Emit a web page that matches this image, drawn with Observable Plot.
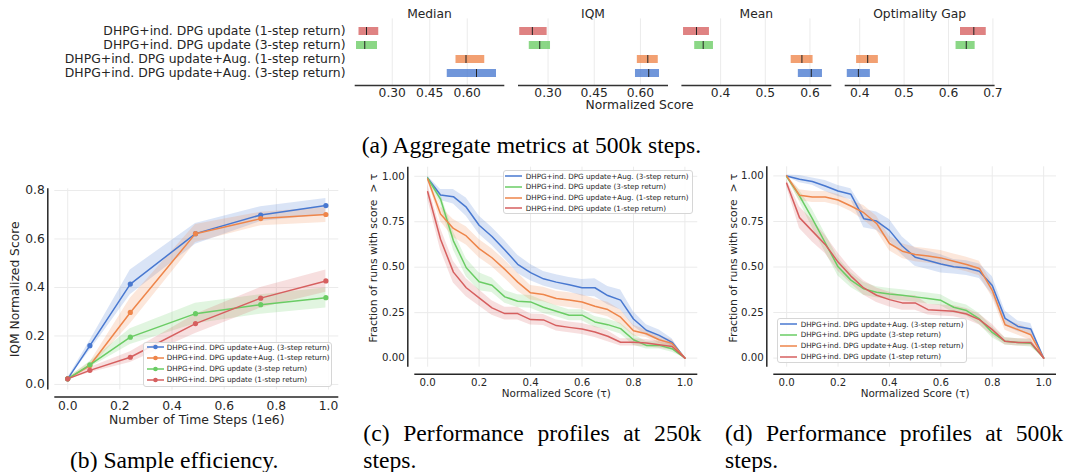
<!DOCTYPE html>
<html>
<head>
<meta charset="utf-8">
<script src="https://cdn.jsdelivr.net/npm/d3@7"></script>
<script src="https://cdn.jsdelivr.net/npm/@observablehq/plot@0.6"></script>
<style>
  body { margin: 0; background: white; }
  #fig { position: relative; width: 1067px; height: 472px; overflow: hidden; background: white; }
  #fig svg { position: absolute; left: 0; top: 0; }
  .cap { position: absolute; font-family: "Liberation Serif", "Times New Roman", serif; font-size: 23.6px; line-height: 27.3px; color: #000; white-space: nowrap; }
  .capj { white-space: normal; text-align: justify; }
  .legend { position: absolute; box-sizing: border-box; border: 1px solid #d6d6d6; border-radius: 3px; background: rgba(255,255,255,0.85); font-family: "DejaVu Sans", sans-serif; font-size: 7.2px; color: #262626; }
  .legend .row { position: absolute; left: 0; height: 10px; display: flex; align-items: center; white-space: nowrap; }
</style>
</head>
<body>
<div id="fig"></div>
<script>
// ---------- shared ----------
const methods = [
  "DHPG+ind. DPG update (1-step return)",
  "DHPG+ind. DPG update (3-step return)",
  "DHPG+ind. DPG update+Aug. (1-step return)",
  "DHPG+ind. DPG update+Aug. (3-step return)"
];
const methodColors = ["#d65f5f", "#6acc64", "#ee854a", "#4878d0"];

// ---------- (a) aggregate metrics ----------
const metricNames = ["Median", "IQM", "Mean", "Optimality Gap"];
const medianPoint = [0.197, 0.190, 0.595, 0.637];
const medianLow   = [0.167, 0.157, 0.555, 0.520];
const medianHigh  = [0.246, 0.241, 0.670, 0.717];
const iqmPoint = [0.249, 0.273, 0.624, 0.627];
const iqmLow   = [0.208, 0.239, 0.590, 0.584];
const iqmHigh  = [0.297, 0.308, 0.658, 0.662];
const meanPoint = [0.346, 0.361, 0.582, 0.603];
const meanLow   = [0.317, 0.342, 0.558, 0.574];
const meanHigh  = [0.375, 0.384, 0.607, 0.628];
const gapPoint = [0.657, 0.640, 0.418, 0.397];
const gapLow   = [0.627, 0.617, 0.393, 0.372];
const gapHigh  = [0.685, 0.660, 0.442, 0.424];
const medianTicks = [0.30, 0.45, 0.60];
const iqmTicks = [0.30, 0.45, 0.60];
const meanTicks = [0.4, 0.5, 0.6];
const gapTicks = [0.4, 0.5, 0.6, 0.7];

// ---------- (b) sample efficiency ----------
const stepsX = [0.0, 0.085, 0.24, 0.49, 0.74, 0.99];
const sampleAug3   = [0.023, 0.160, 0.414, 0.622, 0.699, 0.738];
const sampleAug3Lo = [0.020, 0.140, 0.370, 0.578, 0.672, 0.700];
const sampleAug3Hi = [0.027, 0.180, 0.472, 0.664, 0.733, 0.767];
const sampleAug1   = [0.023, 0.078, 0.297, 0.622, 0.684, 0.701];
const sampleAug1Lo = [0.020, 0.065, 0.250, 0.585, 0.655, 0.668];
const sampleAug1Hi = [0.027, 0.090, 0.355, 0.660, 0.710, 0.730];
const sampleNoAug3   = [0.023, 0.081, 0.195, 0.292, 0.329, 0.358];
const sampleNoAug3Lo = [0.020, 0.070, 0.165, 0.250, 0.290, 0.315];
const sampleNoAug3Hi = [0.027, 0.095, 0.230, 0.335, 0.370, 0.398];
const sampleNoAug1   = [0.023, 0.058, 0.112, 0.251, 0.356, 0.427];
const sampleNoAug1Lo = [0.020, 0.048, 0.090, 0.210, 0.315, 0.380];
const sampleNoAug1Hi = [0.027, 0.070, 0.135, 0.290, 0.400, 0.472];
const sampleXTicks = [0.0, 0.2, 0.4, 0.6, 0.8, 1.0];
const sampleYTicks = [0.0, 0.2, 0.4, 0.6, 0.8];

// ---------- (c) / (d) performance profiles ----------
const tau = [0, 0.05, 0.1, 0.15, 0.2, 0.25, 0.3, 0.35, 0.4, 0.45, 0.5, 0.55, 0.6, 0.65, 0.7, 0.75, 0.8, 0.85, 0.9, 0.95, 1.0];
const c250Aug3   = [0.99, 0.897, 0.888, 0.83, 0.731, 0.669, 0.595, 0.516, 0.47, 0.436, 0.418, 0.403, 0.387, 0.387, 0.344, 0.319, 0.215, 0.153, 0.125, 0.087, 0];
const c250NoAug3 = [0.99, 0.875, 0.645, 0.497, 0.42, 0.401, 0.337, 0.313, 0.309, 0.28, 0.258, 0.236, 0.236, 0.199, 0.184, 0.162, 0.101, 0.07, 0.07, 0.052, 0];
const c250Aug1   = [0.985, 0.792, 0.713, 0.672, 0.602, 0.552, 0.488, 0.418, 0.359, 0.35, 0.328, 0.319, 0.309, 0.285, 0.267, 0.225, 0.151, 0.134, 0.101, 0.081, 0];
const c250NoAug1 = [0.915, 0.654, 0.473, 0.387, 0.331, 0.276, 0.245, 0.245, 0.212, 0.21, 0.179, 0.169, 0.16, 0.144, 0.12, 0.087, 0.087, 0.083, 0.074, 0.064, 0];
const c250Aug3Err   = [0.01, 0.03, 0.04, 0.05, 0.05, 0.05, 0.05, 0.05, 0.045, 0.04, 0.04, 0.04, 0.045, 0.05, 0.05, 0.055, 0.04, 0.03, 0.03, 0.02, 0];
const c250NoAug3Err = [0.01, 0.03, 0.05, 0.05, 0.05, 0.04, 0.035, 0.035, 0.035, 0.035, 0.03, 0.03, 0.03, 0.03, 0.03, 0.03, 0.03, 0.02, 0.02, 0.02, 0];
const c250Aug1Err   = [0.01, 0.04, 0.05, 0.05, 0.05, 0.05, 0.05, 0.05, 0.04, 0.04, 0.04, 0.04, 0.04, 0.04, 0.04, 0.04, 0.03, 0.02, 0.02, 0.02, 0];
const c250NoAug1Err = [0.04, 0.06, 0.06, 0.05, 0.045, 0.04, 0.035, 0.035, 0.03, 0.03, 0.03, 0.03, 0.03, 0.03, 0.03, 0.02, 0.02, 0.02, 0.02, 0.02, 0];

const d500Aug3   = [1.0, 0.982, 0.969, 0.945, 0.917, 0.899, 0.765, 0.752, 0.701, 0.615, 0.554, 0.536, 0.517, 0.501, 0.494, 0.477, 0.398, 0.218, 0.174, 0.16, 0];
const d500NoAug3 = [0.996, 0.89, 0.765, 0.633, 0.501, 0.428, 0.38, 0.361, 0.352, 0.345, 0.336, 0.327, 0.317, 0.279, 0.261, 0.215, 0.141, 0.092, 0.086, 0.081, 0];
const d500Aug1   = [1.0, 0.894, 0.884, 0.884, 0.868, 0.835, 0.798, 0.739, 0.629, 0.587, 0.569, 0.56, 0.55, 0.532, 0.514, 0.492, 0.372, 0.183, 0.156, 0.128, 0];
const d500NoAug1 = [0.96, 0.771, 0.697, 0.624, 0.527, 0.45, 0.385, 0.345, 0.321, 0.303, 0.303, 0.266, 0.261, 0.257, 0.242, 0.211, 0.156, 0.092, 0.086, 0.086, 0];
const d500Aug3Err   = [0.005, 0.02, 0.02, 0.03, 0.03, 0.03, 0.05, 0.05, 0.06, 0.05, 0.05, 0.05, 0.05, 0.04, 0.04, 0.04, 0.05, 0.04, 0.03, 0.03, 0];
const d500NoAug3Err = [0.005, 0.03, 0.05, 0.05, 0.05, 0.04, 0.035, 0.03, 0.03, 0.03, 0.03, 0.03, 0.03, 0.03, 0.03, 0.03, 0.03, 0.02, 0.02, 0.02, 0];
const d500Aug1Err   = [0.005, 0.03, 0.03, 0.03, 0.03, 0.03, 0.04, 0.04, 0.04, 0.04, 0.04, 0.04, 0.04, 0.04, 0.04, 0.04, 0.04, 0.03, 0.03, 0.03, 0];
const d500NoAug1Err = [0.02, 0.06, 0.06, 0.05, 0.05, 0.04, 0.04, 0.04, 0.04, 0.04, 0.04, 0.03, 0.03, 0.03, 0.03, 0.03, 0.03, 0.02, 0.02, 0.02, 0];
const tauTicks = [0.0, 0.2, 0.4, 0.6, 0.8, 1.0];
const fracTicks = [0.0, 0.25, 0.5, 0.75, 1.0];

// ================= drawing =================
const fig = document.getElementById("fig");
const W = 1067, H = 472;
const ink = "#262626", gridColor = "#ebebeb";
const colorScale = {domain: methods, range: methodColors};
const centered = {textAnchor: "middle", lineAnchor: "middle"};

function metricPlot(name, point, low, high, frameL, frameR, domain, ticks, fmt, showY, extra) {
  const rows = methods.map((m, i) => ({method: m, point: point[i], lo: low[i], hi: high[i]}));
  const h = 120;
  return Plot.plot({
    width: W, height: h,
    marginLeft: frameL, marginRight: W - frameR, marginTop: 18.4, marginBottom: h - 85,
    x: {domain},
    y: {domain: methods, padding: 0.46, axis: showY ? undefined : null},
    color: colorScale,
    style: {fontFamily: "DejaVu Sans", fontSize: "12.3px", color: ink, background: "transparent", overflow: "visible"},
    marks: [
      Plot.ruleX(ticks, {stroke: gridColor, strokeWidth: 1}),
      Plot.barX(rows, {y: "method", x1: "lo", x2: "hi", fill: "method", fillOpacity: 0.78}),
      Plot.tickX(rows, {y: "method", x: "point", stroke: "#222", strokeWidth: 1}),
      Plot.frame({anchor: "bottom", stroke: "#333", strokeWidth: 1.6}),
      Plot.axisX({ticks, tickSize: 0, tickPadding: 3, tickFormat: d3.format(fmt), label: null}),
      showY ? Plot.axisY({tickSize: 0, tickPadding: 10, label: null, fontSize: 12.4}) : null,
      Plot.text([name], {frameAnchor: "top", dy: -4.4, fontSize: 12.3, fill: ink, ...centered}),
      ...(extra || [])
    ]
  });
}

fig.appendChild(metricPlot(metricNames[0], medianPoint, medianLow, medianHigh, 355, 503, [0.153, 0.745], medianTicks, ".2f", true));
fig.appendChild(metricPlot(metricNames[1], iqmPoint, iqmLow, iqmHigh, 518.3, 666.7, [0.205, 0.687], iqmTicks, ".2f", false,
  [Plot.text(["Normalized Score"], {frameAnchor: "bottom", dx: 46.5, dy: 20, fontSize: 12.3, fill: ink, ...centered})]));
fig.appendChild(metricPlot(metricNames[2], meanPoint, meanLow, meanHigh, 681.7, 830, [0.314, 0.646], meanTicks, ".1f", false));
fig.appendChild(metricPlot(metricNames[3], gapPoint, gapLow, gapHigh, 845, 993.3, [0.368, 0.702], gapTicks, ".1f", false));

// generic line + band panel
function bandPanel(o) {
  const data = o.series.flatMap(s => s.x.map((x, i) => ({series: s.name, x, y: s.y[i], lo: s.lo[i], hi: s.hi[i]})));
  return Plot.plot({
    width: W, height: H,
    marginLeft: o.frame[0], marginRight: W - o.frame[1], marginTop: o.frame[2], marginBottom: H - o.frame[3],
    x: {domain: o.xDomain}, y: {domain: o.yDomain},
    color: colorScale,
    style: {fontFamily: "DejaVu Sans", fontSize: o.tickFont + "px", color: ink, background: "transparent", overflow: "visible"},
    marks: [
      Plot.ruleX(o.xTicks, {stroke: gridColor, strokeWidth: 1}),
      Plot.ruleY(o.yTicks, {stroke: gridColor, strokeWidth: 1}),
      Plot.areaY(data, {x: "x", y1: "lo", y2: "hi", fill: "series", fillOpacity: 0.2, z: "series"}),
      Plot.lineY(data, {x: "x", y: "y", stroke: "series", strokeWidth: 1.5, z: "series"}),
      o.dots ? Plot.dot(data, {x: "x", y: "y", fill: "series", r: 2.6}) : null,
      Plot.ruleY([o.yDomain[0]], {x1: o.xDomain[0], x2: o.xDomain[1], dy: o.spineOff, stroke: ink, strokeWidth: 1.5}),
      Plot.ruleX([o.xDomain[0]], {y1: o.yDomain[0], y2: o.yDomain[1], dx: -o.spineOff, stroke: ink, strokeWidth: 1.5}),
      Plot.axisX({ticks: o.xTicks, tickSize: 0, tickPadding: o.padX, tickFormat: d3.format(o.fmtX), label: null}),
      Plot.axisY({ticks: o.yTicks, tickSize: 0, tickPadding: o.padY, tickFormat: d3.format(o.fmtY), label: null}),
      Plot.text([o.xLabel], {frameAnchor: "bottom", dy: o.xLabelDy, fontSize: o.xLabelFont, fill: ink, ...centered}),
      Plot.text([o.yLabel], {frameAnchor: "left", rotate: -90, dx: o.yLabelDx, dy: o.yLabelDy, fontSize: o.yLabelFont, fill: ink, ...centered})
    ]
  });
}

// (b)
const bNames = [methods[3], methods[2], methods[1], methods[0]];
fig.appendChild(bandPanel({
  frame: [54.3, 338.3, 188.3, 389.5],
  xDomain: [-0.0495, 1.0395], yDomain: [-0.023, 0.807],
  xTicks: sampleXTicks, yTicks: sampleYTicks, fmtX: ".1f", fmtY: ".1f",
  tickFont: 12.3, padX: 11, padY: 10, spineOff: 7,
  xLabel: "Number of Time Steps (1e6)", xLabelDy: 30.5, xLabelFont: 12.4,
  yLabel: "IQM Normalized Score", yLabelDx: -39.3, yLabelDy: 0, yLabelFont: 12.3,
  dots: true,
  series: [
    {name: bNames[0], x: stepsX, y: sampleAug3, lo: sampleAug3Lo, hi: sampleAug3Hi},
    {name: bNames[1], x: stepsX, y: sampleAug1, lo: sampleAug1Lo, hi: sampleAug1Hi},
    {name: bNames[2], x: stepsX, y: sampleNoAug3, lo: sampleNoAug3Lo, hi: sampleNoAug3Hi},
    {name: bNames[3], x: stepsX, y: sampleNoAug1, lo: sampleNoAug1Lo, hi: sampleNoAug1Hi}
  ]
}));

function profileSeries(vals, errs) {
  return vals.map((v, k) => ({
    name: [methods[3], methods[1], methods[2], methods[0]][k], x: tau, y: v,
    lo: v.map((d, i) => d - errs[k][i]), hi: v.map((d, i) => d + errs[k][i])
  }));
}
const profLabelY = "Fraction of runs with score  > \u03c4";
const profLabelX = "Normalized Score (\u03c4)";

// (c)
fig.appendChild(bandPanel({
  frame: [414.3, 697.3, 166.7, 366.7],
  xDomain: [-0.05, 1.05], yDomain: [-0.05, 1.05],
  xTicks: tauTicks, yTicks: fracTicks, fmtX: ".1f", fmtY: ".2f",
  tickFont: 10.2, padX: 12, padY: 10, spineOff: 7,
  xLabel: profLabelX, xLabelDy: 26.6, xLabelFont: 10.4,
  yLabel: profLabelY, yLabelDx: -41, yLabelDy: -9, yLabelFont: 10.8,
  dots: false,
  series: profileSeries([c250Aug3, c250NoAug3, c250Aug1, c250NoAug1], [c250Aug3Err, c250NoAug3Err, c250Aug1Err, c250NoAug1Err])
}));

// (d)
fig.appendChild(bandPanel({
  frame: [773.3, 1056, 166.3, 366.7],
  xDomain: [-0.05, 1.05], yDomain: [-0.05, 1.05],
  xTicks: tauTicks, yTicks: fracTicks, fmtX: ".1f", fmtY: ".2f",
  tickFont: 10.2, padX: 12, padY: 10, spineOff: 7,
  xLabel: profLabelX, xLabelDy: 26.6, xLabelFont: 10.4,
  yLabel: profLabelY, yLabelDx: -40.6, yLabelDy: -9, yLabelFont: 10.8,
  dots: false,
  series: profileSeries([d500Aug3, d500NoAug3, d500Aug1, d500NoAug1], [d500Aug3Err, d500NoAug3Err, d500Aug1Err, d500NoAug1Err])
}));

// ---------- legends (HTML) ----------
function legend(left, top, width, height, names, firstRow, step, swatchX, textX, dot) {
  const box = document.createElement("div");
  box.className = "legend";
  Object.assign(box.style, {left: left + "px", top: top + "px", width: width + "px", height: height + "px"});
  names.forEach((n, i) => {
    const color = methodColors[methods.indexOf(n)];
    const row = document.createElement("div");
    row.className = "row";
    row.style.top = (firstRow + i * step - 5 - 1) + "px";
    const sw = 17;
    row.innerHTML =
      `<svg width="${sw}" height="10" style="position:relative;margin-left:${swatchX - 1}px;overflow:visible">` +
      `<line x1="0" x2="${sw}" y1="5" y2="5" stroke="${color}" stroke-width="1.5"/>` +
      (dot ? `<circle cx="${sw / 2}" cy="5" r="2.3" fill="${color}"/>` : "") +
      `</svg><span style="margin-left:${textX - swatchX - sw}px">${n}</span>`;
    box.appendChild(row);
  });
  fig.appendChild(box);
}
legend(143.3, 341.7, 189, 45, [methods[3], methods[2], methods[1], methods[0]], 5.3, 10.9, 3.4, 23.4, true);
legend(503.3, 170, 190, 44.3, [methods[3], methods[1], methods[2], methods[0]], 6, 10.8, 1.8, 22.4, false);
legend(777.3, 318.3, 190, 44.4, [methods[3], methods[1], methods[2], methods[0]], 5.7, 10.9, 2.7, 23.4, false);

// ---------- captions ----------
function caption(text, left, top, width, justify) {
  const d = document.createElement("div");
  d.className = "cap" + (justify ? " capj" : "");
  d.style.left = left + "px"; d.style.top = top + "px";
  if (width) d.style.width = width + "px";
  d.textContent = text;
  fig.appendChild(d);
}
caption("(a) Aggregate metrics at 500k steps.", 361.7, 131.9);
caption("(b) Sample efficiency.", 70, 446.9);
caption("(c) Performance profiles at 250k steps.", 363.3, 419.6, 338, true);
caption("(d) Performance profiles at 500k steps.", 725, 419.6, 338, true);
</script>
</body>
</html>
